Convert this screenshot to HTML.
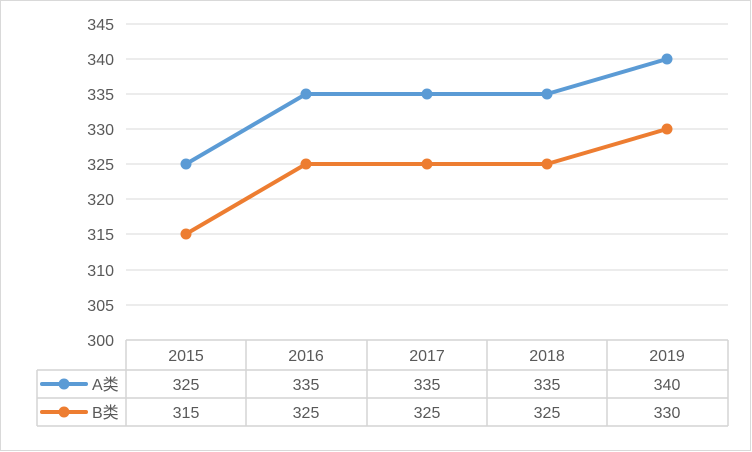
<!DOCTYPE html>
<html><head><meta charset="utf-8"><style>
html,body{margin:0;padding:0;background:#fff;}
svg{display:block;font-family:"Liberation Sans","Noto Sans CJK SC",sans-serif;}
</style></head><body>
<svg width="752" height="452" viewBox="0 0 752 452">
<rect x="0.5" y="0.5" width="750" height="450" fill="#fff" stroke="#d9d9d9"/>
<g stroke="#d9d9d9" stroke-width="1">
<line x1="126" y1="24" x2="728" y2="24"/>
<line x1="126" y1="59" x2="728" y2="59"/>
<line x1="126" y1="94" x2="728" y2="94"/>
<line x1="126" y1="129" x2="728" y2="129"/>
<line x1="126" y1="164" x2="728" y2="164"/>
<line x1="126" y1="199" x2="728" y2="199"/>
<line x1="126" y1="234" x2="728" y2="234"/>
<line x1="126" y1="270" x2="728" y2="270"/>
<line x1="126" y1="305" x2="728" y2="305"/>
</g>
<g stroke="#d4d4d4" stroke-width="1.5" fill="none">
<line x1="126" y1="340" x2="728" y2="340"/>
<line x1="37" y1="370" x2="728" y2="370"/>
<line x1="37" y1="398" x2="728" y2="398"/>
<line x1="37" y1="426" x2="728" y2="426"/>
<line x1="37" y1="370" x2="37" y2="426"/>
<line x1="126" y1="340" x2="126" y2="426"/>
<line x1="246" y1="340" x2="246" y2="426"/>
<line x1="367" y1="340" x2="367" y2="426"/>
<line x1="487" y1="340" x2="487" y2="426"/>
<line x1="607" y1="340" x2="607" y2="426"/>
<line x1="728" y1="340" x2="728" y2="426"/>
</g>
<g font-size="16" fill="#595959" text-anchor="end">
<text x="114" y="30">345</text><text x="114" y="65">340</text><text x="114" y="100">335</text>
<text x="114" y="135">330</text><text x="114" y="170">325</text><text x="114" y="205">320</text>
<text x="114" y="240">315</text><text x="114" y="276">310</text><text x="114" y="311">305</text>
<text x="114" y="346">300</text>
</g>
<g font-size="16" fill="#595959" text-anchor="middle">
<text x="186" y="361">2015</text><text x="306" y="361">2016</text><text x="427" y="361">2017</text><text x="547" y="361">2018</text><text x="667" y="361">2019</text>
<text x="186" y="390">325</text><text x="306" y="390">335</text><text x="427" y="390">335</text><text x="547" y="390">335</text><text x="667" y="390">340</text>
<text x="186" y="418">315</text><text x="306" y="418">325</text><text x="427" y="418">325</text><text x="547" y="418">325</text><text x="667" y="418">330</text>
<text x="92" y="390" text-anchor="start">A类</text>
<text x="92" y="418" text-anchor="start">B类</text>
</g>
<line x1="42" y1="384" x2="86" y2="384" stroke="#5b9bd5" stroke-width="4" stroke-linecap="round"/>
<circle cx="64" cy="384" r="5.5" fill="#5b9bd5"/>
<line x1="42" y1="412" x2="86" y2="412" stroke="#ed7d31" stroke-width="4" stroke-linecap="round"/>
<circle cx="64" cy="412" r="5.5" fill="#ed7d31"/>
<polyline points="186,164 306,94 427,94 547,94 667,59" fill="none" stroke="#5b9bd5" stroke-width="4" stroke-linejoin="round"/>
<g fill="#5b9bd5"><circle cx="186" cy="164" r="5.5"/><circle cx="306" cy="94" r="5.5"/><circle cx="427" cy="94" r="5.5"/><circle cx="547" cy="94" r="5.5"/><circle cx="667" cy="59" r="5.5"/></g>
<polyline points="186,234 306,164 427,164 547,164 667,129" fill="none" stroke="#ed7d31" stroke-width="4" stroke-linejoin="round"/>
<g fill="#ed7d31"><circle cx="186" cy="234" r="5.5"/><circle cx="306" cy="164" r="5.5"/><circle cx="427" cy="164" r="5.5"/><circle cx="547" cy="164" r="5.5"/><circle cx="667" cy="129" r="5.5"/></g>
</svg>
</body></html>
